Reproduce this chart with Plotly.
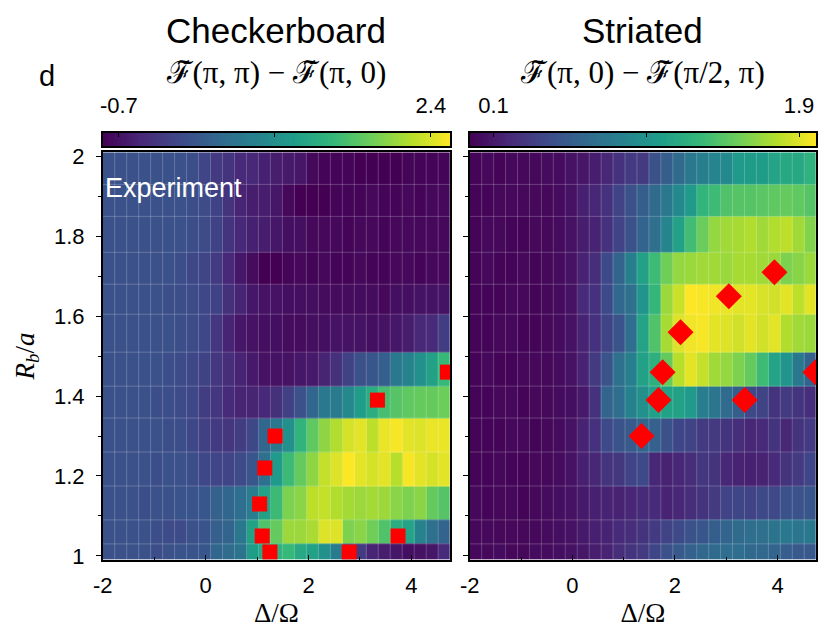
import numpy as np
import plotly.graph_objects as go

W, H = 818, 637

# ---------------- data ----------------
# detuning Delta/Omega (cell centres) and blockade radius R_b/a (row centres)
DELTA = [-1.884, -1.651, -1.418, -1.185, -0.952, -0.720, -0.487, -0.254, -0.021,
         0.212, 0.445, 0.678, 0.910, 1.143, 1.376, 1.609, 1.842, 2.075, 2.308,
         2.541, 2.774, 3.006, 3.239, 3.472, 3.705, 3.938, 4.171, 4.404, 4.637]
RB = [1.01, 1.05, 1.13, 1.22, 1.30, 1.39, 1.46, 1.56, 1.65, 1.71, 1.81, 1.89, 1.97]

# Checkerboard order parameter  F(pi,pi) - F(pi,0), rows follow RB
CHECKER_Z = [
    [0.0, 0.0, 0.0, 0.0, -0.03, 0.0, 0.04, 0.04, 0.07, 0.28, 0.35, 0.45, 1.04, 1.21, 1.35, 1.45, 1.21, 1.11, 0.87, 0.59, 0.0, -0.27, -0.52, -0.58, -0.65, -0.72, -0.69, -0.65, -0.45],
    [0.0, 0.0, 0.0, 0.0, -0.03, -0.07, -0.07, 0.0, 0.04, 0.18, 0.24, 0.52, 1.11, 1.62, 1.76, 2.07, 2.07, 2.14, 2.42, 2.42, 1.90, 1.97, 1.83, 1.62, 1.28, 1.14, 0.69, 0.42, 0.24],
    [0.0, 0.0, 0.0, -0.03, 0.0, 0.0, 0.04, 0.04, 0.07, 0.21, 0.28, 0.38, 0.62, 1.11, 1.49, 1.90, 1.97, 2.25, 2.28, 2.18, 2.11, 2.07, 2.11, 2.07, 1.97, 1.90, 1.97, 1.76, 1.66],
    [0.0, 0.0, 0.0, 0.0, -0.03, 0.0, 0.0, -0.03, -0.10, -0.14, -0.14, -0.07, 0.07, 0.42, 1.00, 1.49, 1.76, 2.00, 2.28, 2.42, 2.59, 2.45, 2.38, 2.45, 2.21, 2.56, 2.45, 2.38, 2.45],
    [0.0, 0.0, 0.0, 0.0, 0.0, -0.03, -0.03, -0.10, -0.20, -0.27, -0.31, -0.24, -0.10, 0.28, 0.52, 0.87, 1.38, 1.73, 2.00, 2.18, 2.38, 2.45, 2.25, 2.49, 2.56, 2.45, 2.42, 2.49, 2.49],
    [0.0, 0.0, 0.0, 0.0, -0.03, -0.03, -0.07, -0.10, -0.24, -0.31, -0.45, -0.52, -0.52, -0.48, -0.38, -0.20, 0.0, 0.28, 0.52, 0.55, 0.76, 1.04, 1.28, 1.56, 1.66, 1.73, 1.76, 1.76, 1.80],
    [0.0, 0.0, 0.0, 0.0, 0.0, -0.03, -0.07, -0.10, -0.17, -0.31, -0.41, -0.52, -0.62, -0.69, -0.69, -0.69, -0.65, -0.62, -0.52, -0.38, -0.17, 0.0, 0.07, 0.18, 0.52, 0.69, 0.87, 1.11, 1.45],
    [0.0, 0.0, 0.0, 0.0, 0.0, 0.0, -0.03, -0.07, -0.10, -0.31, -0.52, -0.65, -0.69, -0.72, -0.72, -0.76, -0.76, -0.72, -0.72, -0.69, -0.69, -0.69, -0.72, -0.69, -0.65, -0.58, -0.48, -0.45, -0.24],
    [0.0, 0.0, 0.0, 0.0, 0.0, -0.03, -0.03, -0.07, -0.10, -0.17, -0.38, -0.52, -0.65, -0.69, -0.69, -0.72, -0.72, -0.72, -0.76, -0.76, -0.76, -0.76, -0.76, -0.79, -0.72, -0.72, -0.69, -0.69, -0.69],
    [0.0, 0.0, 0.0, 0.0, 0.0, 0.0, -0.03, -0.10, -0.14, -0.27, -0.48, -0.65, -0.76, -0.86, -0.86, -0.83, -0.79, -0.83, -0.79, -0.83, -0.83, -0.79, -0.83, -0.83, -0.79, -0.79, -0.83, -0.79, -0.79],
    [0.0, 0.0, 0.0, 0.0, 0.0, 0.0, 0.0, -0.03, -0.07, -0.17, -0.34, -0.48, -0.55, -0.58, -0.65, -0.72, -0.72, -0.79, -0.79, -0.79, -0.83, -0.79, -0.79, -0.83, -0.79, -0.79, -0.79, -0.79, -0.79],
    [0.0, 0.0, 0.0, 0.0, 0.0, 0.0, 0.0, -0.03, -0.07, -0.17, -0.34, -0.52, -0.58, -0.58, -0.65, -0.79, -0.86, -0.86, -0.86, -0.83, -0.83, -0.83, -0.79, -0.83, -0.83, -0.79, -0.83, -0.79, -0.79],
    [0.0, 0.0, 0.0, 0.0, 0.0, 0.0, 0.0, -0.03, -0.14, -0.27, -0.34, -0.45, -0.48, -0.55, -0.58, -0.62, -0.65, -0.79, -0.83, -0.83, -0.83, -0.86, -0.86, -0.86, -0.86, -0.83, -0.83, -0.83, -0.83],
]

# Striated order parameter  F(pi,0) - F(pi/2,pi), rows follow RB
STRIATED_Z = [
    [0.0, 0.0, 0.02, 0.0, 0.0, 0.02, 0.02, 0.04, 0.06, 0.08, 0.12, 0.16, 0.23, 0.27, 0.31, 0.39, 0.47, 0.53, 0.59, 0.63, 0.67, 0.69, 0.69, 0.65, 0.63, 0.61, 0.57, 0.53, 0.53],
    [0.0, 0.0, 0.0, 0.0, 0.0, 0.0, 0.02, 0.04, 0.06, 0.10, 0.14, 0.16, 0.20, 0.23, 0.27, 0.31, 0.37, 0.41, 0.47, 0.51, 0.57, 0.61, 0.67, 0.69, 0.71, 0.74, 0.78, 0.76, 0.78],
    [0.0, -0.02, 0.0, 0.0, -0.02, 0.0, 0.02, 0.04, 0.06, 0.10, 0.14, 0.16, 0.16, 0.18, 0.20, 0.20, 0.16, 0.18, 0.23, 0.27, 0.31, 0.37, 0.39, 0.37, 0.41, 0.41, 0.47, 0.49, 0.51],
    [-0.02, -0.02, 0.0, -0.02, -0.02, 0.0, 0.0, 0.02, 0.06, 0.14, 0.18, 0.27, 0.29, 0.37, 0.41, 0.18, 0.16, 0.18, 0.23, 0.29, 0.27, 0.18, 0.16, 0.14, 0.16, 0.20, 0.27, 0.31, 0.39],
    [-0.02, -0.02, -0.02, 0.0, 0.0, -0.02, 0.0, 0.02, 0.06, 0.16, 0.25, 0.41, 0.49, 0.53, 0.61, 0.59, 0.47, 0.39, 0.37, 0.31, 0.31, 0.27, 0.23, 0.18, 0.20, 0.27, 0.18, 0.27, 0.31],
    [-0.02, -0.02, 0.0, 0.0, -0.02, 0.0, 0.0, 0.02, 0.04, 0.10, 0.25, 0.61, 0.69, 0.86, 0.98, 1.10, 1.12, 1.12, 1.06, 0.82, 0.76, 0.67, 0.57, 0.41, 0.37, 0.27, 0.31, 0.27, 0.23],
    [-0.02, 0.0, -0.02, -0.02, 0.0, 0.0, 0.0, 0.02, 0.06, 0.16, 0.31, 0.49, 0.71, 0.84, 1.12, 1.25, 1.51, 1.78, 1.92, 1.82, 1.71, 1.67, 1.59, 1.51, 1.35, 1.14, 1.02, 0.78, 0.59],
    [-0.02, -0.02, 0.0, 0.0, -0.02, -0.02, 0.0, 0.02, 0.06, 0.16, 0.25, 0.37, 0.49, 0.69, 1.14, 1.43, 1.73, 1.90, 1.96, 1.98, 1.92, 1.90, 1.86, 1.92, 1.86, 1.92, 1.76, 1.71, 1.69],
    [-0.02, -0.02, -0.02, 0.0, 0.0, -0.02, 0.0, 0.02, 0.06, 0.20, 0.25, 0.41, 0.65, 0.71, 1.02, 1.31, 1.69, 1.84, 2.00, 1.98, 1.96, 1.94, 1.92, 1.92, 1.88, 1.86, 1.92, 1.80, 1.92],
    [-0.02, 0.0, -0.02, -0.02, 0.0, -0.02, 0.0, 0.02, 0.06, 0.16, 0.23, 0.41, 0.61, 0.84, 1.12, 1.35, 1.55, 1.67, 1.69, 1.71, 1.71, 1.69, 1.73, 1.73, 1.71, 1.69, 1.59, 1.63, 1.69],
    [-0.02, 0.0, 0.0, -0.02, -0.02, 0.0, 0.0, 0.02, 0.06, 0.12, 0.16, 0.25, 0.37, 0.47, 0.61, 0.71, 0.88, 1.12, 1.37, 1.53, 1.67, 1.71, 1.73, 1.76, 1.71, 1.76, 1.80, 1.71, 1.61],
    [-0.02, -0.02, 0.0, 0.0, 0.0, 0.0, 0.0, 0.02, 0.06, 0.14, 0.18, 0.25, 0.37, 0.47, 0.57, 0.67, 0.78, 0.92, 1.06, 1.29, 1.35, 1.43, 1.45, 1.45, 1.47, 1.49, 1.51, 1.49, 1.45],
    [-0.02, 0.0, -0.02, 0.0, 0.0, 0.0, 0.02, 0.02, 0.06, 0.08, 0.12, 0.18, 0.25, 0.31, 0.31, 0.47, 0.57, 0.67, 0.78, 0.84, 0.88, 0.92, 1.06, 1.08, 1.08, 1.14, 1.18, 1.18, 1.27],
]

# phase-boundary markers
CHECKER_MARK_X = [4.70, 3.34, 1.35, 1.15, 1.05, 1.10, 1.25, 2.79, 3.74]
CHECKER_MARK_Y = [1.46, 1.39, 1.30, 1.22, 1.13, 1.05, 1.01, 1.01, 1.05]
STRIATED_MARK_X = [3.94, 3.05, 2.11, 1.76, 4.74, 1.68, 3.36, 1.35]
STRIATED_MARK_Y = [1.71, 1.65, 1.56, 1.46, 1.46, 1.39, 1.39, 1.30]

CHECKER_RANGE = [-0.86, 2.59]
STRIATED_RANGE = [-0.04, 2.0]
CHECKER_CB_TICKS = [-0.7, 2.4]
CHECKER_CB_TEXT = ["-0.7", "2.4"]
CHECKER_CB_MID = [0.85]
STRIATED_CB_TICKS = [0.1, 1.9]
STRIATED_CB_TEXT = ["0.1", "1.9"]
STRIATED_CB_MID = [1.0]
X_TICKS = [-2, 0, 2, 4]
X_TICK_TEXT = ["-2", "0", "2", "4"]
CHECKER_TITLE = "ℱ̃(π, π) − ℱ̃(π, 0)"
STRIATED_TITLE = "ℱ̃(π, 0) − ℱ̃(π/2, π)"

# ---------------- layout helpers ----------------
L_DOM = [94 / W, 446 / W]
R_DOM = [466 / W, 817 / W]
MAIN_Y = [1 - 567 / H, 1 - 148 / H]
CB_Y = [1 - 142 / H, 1 - 128 / H]
XR = [-2, 4.75]
YR = [0.99, 2.011]
SANS = "Liberation Sans, Arial, sans-serif"
SERIF = "Liberation Serif, DejaVu Serif, serif"


def edges(c):
    c = np.asarray(c, float)
    return (c[1:] + c[:-1]) / 2


def grid_lines(xc, yc):
    xs, ys = [], []
    for e in edges(xc):
        xs += [e, e, None]
        ys += [YR[0], YR[1], None]
    for e in edges(yc):
        xs += [XR[0], XR[1], None]
        ys += [e, e, None]
    return xs, ys


fig = go.Figure()

panels = [
    ("x", "y", CHECKER_Z, CHECKER_RANGE, CHECKER_MARK_X, CHECKER_MARK_Y, "square", 15),
    ("x2", "y2", STRIATED_Z, STRIATED_RANGE, STRIATED_MARK_X, STRIATED_MARK_Y, "diamond", 20),
]
for xa, ya, z, zr, mx, my, sym, ms in panels:
    fig.add_trace(go.Heatmap(x=DELTA, y=RB, z=z, colorscale="Viridis",
                             zmin=zr[0], zmax=zr[1], showscale=False,
                             xaxis=xa, yaxis=ya, hoverinfo="skip"))
    gx, gy = grid_lines(DELTA, RB)
    fig.add_trace(go.Scatter(x=gx, y=gy, mode="lines", xaxis=xa, yaxis=ya,
                             line=dict(color="rgba(255,255,255,0.22)", width=1),
                             hoverinfo="skip", showlegend=False))
    fig.add_trace(go.Scatter(x=mx, y=my, mode="markers", xaxis=xa, yaxis=ya,
                             marker=dict(symbol=sym, size=ms, color="#ff0000",
                                         line=dict(width=0)),
                             showlegend=False, hoverinfo="skip"))

# colour bars drawn as gradient strips on their own axes
cbars = [
    ("x3", "y3", CHECKER_RANGE),
    ("x4", "y4", STRIATED_RANGE),
]
for xa, ya, zr in cbars:
    grad = np.linspace(zr[0], zr[1], 300)
    fig.add_trace(go.Heatmap(x=grad, y=[0], z=[grad], colorscale="Viridis",
                             zmin=zr[0], zmax=zr[1], showscale=False,
                             xaxis=xa, yaxis=ya, hoverinfo="skip"))

axis_line = dict(showline=True, linecolor="black", linewidth=1.5, mirror=True,
                 showgrid=False, zeroline=False)
tickfont = dict(family=SANS, size=22, color="black")

xmain = dict(range=XR, tickvals=X_TICKS, ticktext=X_TICK_TEXT, ticks="inside",
             ticklen=5, tickwidth=1.2, tickcolor="black", tickfont=tickfont,
             ticklabelstandoff=5,
             minor=dict(dtick=1, tick0=0, ticks="inside", ticklen=3, tickcolor="black"),
             title=dict(text="Δ/Ω", font=dict(family=SERIF, size=27, color="black"), standoff=6),
             **axis_line)
ymain = dict(range=YR, dtick=0.2, tick0=1, ticks="outside", ticklen=5, tickwidth=1.2,
             tickcolor="black", tickfont=tickfont, ticklabelstandoff=7,
             minor=dict(dtick=0.1, tick0=1, ticks="outside", ticklen=3, tickcolor="black"),
             **axis_line)
cbfont = dict(family=SANS, size=22, color="black")
cbtitle = dict(family=SERIF, size=31, color="black")


def cbar_axis(dom, anchor, rng, ticks, text, mid, title):
    return dict(domain=dom, anchor=anchor, range=rng, side="top",
                tickvals=ticks, ticktext=text, ticks="inside", ticklen=5,
                tickcolor="black", tickfont=cbfont, ticklabelstandoff=9,
                minor=dict(tickvals=mid, ticks="inside", ticklen=5, tickcolor="black"),
                title=dict(text=title, font=cbtitle, standoff=0),
                **axis_line)


fig.update_layout(
    width=W, height=H, margin=dict(l=0, r=0, t=0, b=0),
    paper_bgcolor="white", plot_bgcolor="white", showlegend=False,
    xaxis=dict(domain=L_DOM, anchor="y", **xmain),
    yaxis=dict(domain=MAIN_Y, anchor="x",
               title=dict(text="<i>R</i><sub><i>b</i></sub>/<i>a</i>",
                          font=dict(family=SERIF, size=27, color="black"), standoff=12),
               **ymain),
    xaxis2=dict(domain=R_DOM, anchor="y2", **xmain),
    yaxis2=dict(domain=MAIN_Y, anchor="x2", showticklabels=False, **ymain),
    xaxis3=cbar_axis(L_DOM, "y3", CHECKER_RANGE, CHECKER_CB_TICKS, CHECKER_CB_TEXT,
                     CHECKER_CB_MID, CHECKER_TITLE),
    yaxis3=dict(domain=CB_Y, anchor="x3", range=[-0.5, 0.5], showticklabels=False,
                ticks="", **axis_line),
    xaxis4=cbar_axis(R_DOM, "y4", STRIATED_RANGE, STRIATED_CB_TICKS, STRIATED_CB_TEXT,
                     STRIATED_CB_MID, STRIATED_TITLE),
    yaxis4=dict(domain=CB_Y, anchor="x4", range=[-0.5, 0.5], showticklabels=False,
                ticks="", **axis_line),
)

ann = [
    dict(text="Checkerboard", x=(L_DOM[0] + L_DOM[1]) / 2, y=1 - 23 / H,
         xref="paper", yref="paper", xanchor="center", yanchor="middle", showarrow=False,
         font=dict(family=SANS, size=35, color="black")),
    dict(text="Striated", x=(R_DOM[0] + R_DOM[1]) / 2, y=1 - 23 / H,
         xref="paper", yref="paper", xanchor="center", yanchor="middle", showarrow=False,
         font=dict(family=SANS, size=35, color="black")),
    dict(text="d", x=37 / W, y=1 - 70 / H, xref="paper", yref="paper",
         xanchor="center", yanchor="middle",
         showarrow=False, font=dict(family=SANS, size=29, color="black")),
    dict(text="Experiment", x=-1.99, y=1.921, xref="x", yref="y",
         xanchor="left", yanchor="middle", showarrow=False,
         font=dict(family=SANS, size=27, color="white")),
]
fig.update_layout(annotations=ann)

fig.write_html("out.html", config={"displayModeBar": False},
               post_script="document.body.style.margin='0';")
